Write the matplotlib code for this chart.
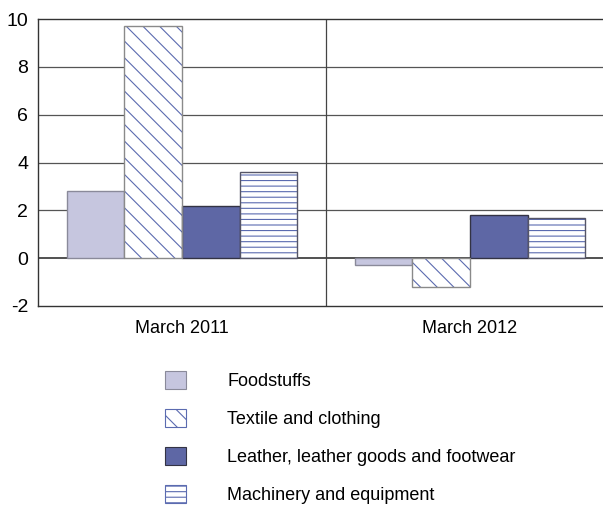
import matplotlib
matplotlib.use("Agg")
import matplotlib.pyplot as plt
from matplotlib.patches import Patch
import numpy as np

plt.rcParams['font.family'] = ['Liberation Sans', 'DejaVu Sans']
plt.rcParams['hatch.linewidth'] = 0.8

periods = ["March 2011", "March 2012"]
series = ["Foodstuffs", "Textile and clothing",
          "Leather, leather goods and footwear", "Machinery and equipment"]
foodstuffs = [2.8, -0.3]
textile = [9.7, -1.2]
leather = [2.2, 1.8]
machinery = [3.6, 1.7]
y_ticks = [-2, 0, 2, 4, 6, 8, 10]

values = [foodstuffs, textile, leather, machinery]
fills = ["#c6c6df", "white", "#5e67a5", "white"]
hatches = [None, "\\\\", None, "---"]
hatch_col = "#5b6bb0"
edges = ["#8a8a9a", "#8a8a8a", "#333344", "#555566"]

fig = plt.figure(figsize=(6.03, 5.08), dpi=100)
ax = fig.add_axes([38 / 603, 1 - 306 / 508, 576 / 603, 287 / 508])

x = np.arange(len(periods))
w = 0.2
for i, vals in enumerate(values):
    pos = x + (i - 1.5) * w
    if hatches[i]:
        ax.bar(pos, vals, w, color=fills[i], hatch=hatches[i],
               edgecolor=hatch_col, linewidth=0, zorder=3)
        ax.bar(pos, vals, w, color="none", edgecolor=edges[i],
               linewidth=1, zorder=4)
    else:
        ax.bar(pos, vals, w, color=fills[i], edgecolor=edges[i],
               linewidth=1, zorder=3)

ax.set_xlim(-0.5, 1.5)
ax.set_ylim(-2, 10)
ax.set_yticks(y_ticks)
ax.set_yticklabels([str(v) for v in y_ticks], fontsize=14)
ax.set_xticks(x)
ax.set_xticklabels(periods, fontsize=13)
ax.tick_params(axis="x", length=0, pad=10)
ax.tick_params(axis="y", length=0, pad=7)
for v in y_ticks[1:-1]:
    ax.axhline(v, color="#333333" if v == 0 else "#555555",
               lw=1.2 if v == 0 else 0.9, zorder=1)
ax.axvline(0.5, color="#444444", lw=0.9, zorder=1)
for s in ax.spines.values():
    s.set_color("#333333")
    s.set_linewidth(1)

handles = []
for i in range(4):
    handles.append(Patch(facecolor=fills[i], hatch=hatches[i],
                         edgecolor=hatch_col if hatches[i] else edges[i],
                         linewidth=0.8))
fig.legend(handles, series, loc="upper left",
           bbox_to_anchor=(165 / 603, 1 - 371 / 508), frameon=False,
           fontsize=13, handlelength=1.15, handleheight=1.15,
           handletextpad=2.3, labelspacing=1.05, borderpad=0,
           borderaxespad=0)

fig.savefig("out.png", dpi=100)
